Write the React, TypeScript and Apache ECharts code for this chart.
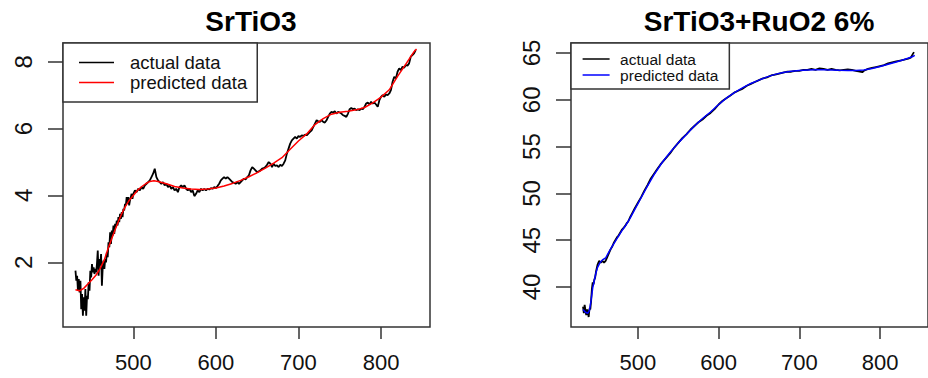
import React, { useEffect, useRef } from "react";
import * as echarts from "echarts";

const xTicks = [500, 600, 700, 800];
const leftYTicks = [2, 4, 6, 8];
const rightYTicks = [40, 45, 50, 55, 60, 65];
const leftTitle = "SrTiO3";
const rightTitle = "SrTiO3+RuO2 6%";
const actualName = "actual data";
const predictedName = "predicted data";

const leftActual: [number, number][] = [
  [430, 1.75], [431, 1.45], [432, 1.6], [433, 1.15], [434, 1.5], [435, 1.1], [436, 1.45], [437, 0.6],
  [438, 1.05], [439, 0.4], [440, 0.95], [441, 0.55], [442, 1.2], [443, 0.4], [444, 1.0], [445, 0.9],
  [446, 1.4], [447, 1.15], [448, 1.75], [449, 1.55], [450, 1.95], [451, 1.7], [452, 1.85], [453, 1.65],
  [454, 1.8], [455, 1.7], [456, 1.95], [457, 2.35], [458, 1.6], [459, 2.1], [460, 1.9], [461, 2.25],
  [462, 1.3], [463, 1.85], [464, 2.05], [465, 1.8], [466, 2.1], [467, 2.0], [468, 2.3], [469, 2.15],
  [470, 2.6], [471, 2.45], [472, 2.9], [473, 2.55], [474, 2.95], [475, 2.8], [476, 3.1], [477, 2.85],
  [478, 3.15], [479, 3.05], [480, 3.25], [481, 3.1], [482, 3.35], [483, 3.2], [484, 3.45], [485, 3.3],
  [486, 3.5], [487, 3.35], [488, 3.6], [489, 3.55], [490, 3.75], [491, 3.7], [492, 3.95], [493, 3.75],
  [494, 3.95], [495, 3.7], [496, 3.85], [497, 3.95], [498, 4.05], [499, 3.9], [500, 4.05], [502, 4.15],
  [504, 4.1], [506, 4.2], [508, 4.15], [510, 4.25], [512, 4.2], [514, 4.3], [516, 4.35], [518, 4.4],
  [520, 4.45], [522, 4.55], [524, 4.65], [526, 4.8], [528, 4.55], [530, 4.45], [532, 4.4], [534, 4.35],
  [536, 4.4], [538, 4.3], [540, 4.35], [542, 4.25], [544, 4.3], [546, 4.2], [548, 4.25], [550, 4.15],
  [552, 4.2], [554, 4.1], [556, 4.25], [558, 4.3], [560, 4.25], [562, 4.3], [564, 4.2], [566, 4.15],
  [568, 4.2], [570, 4.1], [572, 4.15], [574, 3.98], [576, 4.05], [578, 4.15], [580, 4.1], [582, 4.2],
  [584, 4.15], [586, 4.2], [588, 4.15], [590, 4.2], [592, 4.18], [594, 4.22], [596, 4.2], [598, 4.25],
  [600, 4.22], [602, 4.28], [604, 4.35], [606, 4.45], [608, 4.5], [610, 4.55], [612, 4.5], [614, 4.55],
  [616, 4.5], [618, 4.45], [620, 4.4], [622, 4.38], [624, 4.35], [626, 4.4], [628, 4.35], [630, 4.4],
  [632, 4.45], [634, 4.5], [636, 4.48], [638, 4.55], [640, 4.6], [642, 4.75], [644, 4.85], [646, 4.8],
  [648, 4.75], [650, 4.7], [652, 4.72], [654, 4.75], [656, 4.8], [658, 4.82], [660, 4.85], [662, 4.92],
  [664, 5.0], [666, 4.95], [668, 4.85], [670, 4.95], [672, 4.88], [674, 4.9], [676, 4.85], [678, 4.92],
  [680, 4.88], [682, 4.95], [684, 5.05], [686, 5.25], [688, 5.4], [690, 5.55], [692, 5.65], [694, 5.7],
  [696, 5.75], [698, 5.7], [700, 5.78], [702, 5.75], [704, 5.8], [706, 5.78], [708, 5.82], [710, 5.8],
  [712, 5.85], [714, 5.9], [716, 5.95], [718, 6.05], [720, 6.15], [722, 6.25], [724, 6.22], [726, 6.2],
  [728, 6.25], [730, 6.2], [732, 6.18], [734, 6.25], [736, 6.35], [738, 6.45], [740, 6.5], [742, 6.48],
  [744, 6.52], [746, 6.45], [748, 6.5], [750, 6.48], [752, 6.45], [754, 6.4], [756, 6.38], [758, 6.35],
  [760, 6.45], [762, 6.58], [764, 6.62], [766, 6.58], [768, 6.6], [770, 6.55], [772, 6.58], [774, 6.55],
  [776, 6.6], [778, 6.58], [780, 6.65], [782, 6.75], [784, 6.78], [786, 6.72], [788, 6.8], [790, 6.75],
  [792, 6.78], [794, 6.72], [796, 6.65], [798, 6.85], [800, 6.95], [802, 7.0], [804, 6.95], [806, 7.02],
  [808, 7.0], [810, 7.05], [812, 7.15], [814, 7.4], [816, 7.55], [818, 7.5], [820, 7.7], [822, 7.8],
  [824, 7.75], [826, 7.85], [828, 7.82], [830, 7.9], [832, 7.88], [834, 7.95], [836, 8.15], [838, 8.2],
  [840, 8.25], [842, 8.35],
];

const leftPredicted: [number, number][] = [
  [430, 1.18], [435, 1.15], [440, 1.22], [445, 1.35], [450, 1.48], [455, 1.62], [460, 1.82], [465, 2.08],
  [470, 2.45], [475, 2.78], [480, 3.1], [485, 3.4], [490, 3.65], [495, 3.85], [500, 4.0], [505, 4.15],
  [510, 4.26], [515, 4.35], [520, 4.42], [525, 4.44], [530, 4.42], [540, 4.35], [550, 4.27], [560, 4.22],
  [570, 4.19], [580, 4.18], [590, 4.19], [600, 4.22], [610, 4.28], [620, 4.36], [630, 4.45], [640, 4.56],
  [650, 4.68], [660, 4.82], [670, 4.97], [680, 5.13], [690, 5.38], [700, 5.63], [710, 5.84], [720, 6.12],
  [730, 6.3], [740, 6.43], [750, 6.49], [760, 6.52], [770, 6.56], [780, 6.63], [790, 6.77], [800, 6.94],
  [810, 7.16], [820, 7.56], [830, 7.93], [840, 8.3], [843, 8.38],
];

const rightActual: [number, number][] = [
  [432, 37.9], [433, 37.2], [434, 38.1], [435, 37.5], [436, 37.0], [437, 37.6], [438, 37.3], [439, 36.8],
  [440, 37.7], [441, 37.6], [442, 38.5], [443, 39.8], [444, 40.5], [445, 40.3], [446, 40.8], [447, 41.0],
  [448, 41.6], [449, 42.0], [450, 42.4], [452, 42.8], [454, 42.6], [456, 42.8], [458, 42.6], [460, 42.8],
  [462, 43.2], [464, 43.6], [466, 44.0], [468, 44.3], [470, 44.7], [472, 45.0], [474, 45.3], [476, 45.5],
  [478, 45.8], [480, 46.1], [482, 46.3], [484, 46.5], [486, 46.8], [488, 47.0], [490, 47.4], [493, 47.9],
  [496, 48.4], [500, 49.0], [504, 49.6], [508, 50.3], [512, 50.9], [516, 51.6], [520, 52.1], [524, 52.6],
  [528, 53.1], [532, 53.5], [536, 53.9], [540, 54.3], [545, 54.9], [550, 55.4], [555, 55.9], [560, 56.3],
  [565, 56.8], [570, 57.2], [575, 57.6], [580, 57.9], [585, 58.3], [590, 58.6], [595, 59.0], [600, 59.5],
  [605, 59.9], [610, 60.2], [615, 60.5], [620, 60.8], [625, 61.0], [630, 61.2], [635, 61.5], [640, 61.7],
  [645, 61.9], [650, 62.1], [655, 62.3], [660, 62.4], [665, 62.6], [670, 62.7], [675, 62.8], [680, 62.9],
  [685, 63.0], [690, 63.0], [695, 63.1], [700, 63.1], [705, 63.2], [710, 63.2], [715, 63.3], [720, 63.2],
  [725, 63.35], [730, 63.3], [735, 63.2], [740, 63.3], [745, 63.2], [750, 63.15], [755, 63.2], [760, 63.25],
  [765, 63.2], [770, 63.1], [775, 63.0], [778, 62.95], [780, 63.1], [785, 63.3], [790, 63.4], [795, 63.5],
  [800, 63.6], [805, 63.7], [810, 63.9], [815, 64.0], [820, 64.1], [825, 64.2], [830, 64.3], [835, 64.4],
  [838, 64.5], [840, 64.8], [842, 65.1],
];

const rightPredicted: [number, number][] = [
  [432, 37.6], [435, 37.3], [438, 37.2], [440, 37.5], [442, 38.6], [444, 39.9], [446, 40.7], [448, 41.5],
  [450, 42.1], [453, 42.6], [456, 42.9], [460, 43.1], [465, 43.9], [470, 44.6], [475, 45.3], [480, 46.0],
  [485, 46.6], [490, 47.3], [500, 48.9], [510, 50.5], [520, 52.0], [530, 53.3], [540, 54.4], [550, 55.4],
  [560, 56.3], [570, 57.2], [580, 58.0], [590, 58.7], [600, 59.5], [610, 60.2], [620, 60.8], [630, 61.3],
  [640, 61.75], [650, 62.1], [660, 62.45], [670, 62.72], [680, 62.92], [690, 63.05], [700, 63.13], [710, 63.18],
  [720, 63.2], [730, 63.2], [740, 63.18], [750, 63.15], [760, 63.13], [770, 63.12], [780, 63.18], [790, 63.35],
  [800, 63.55], [810, 63.8], [820, 64.05], [830, 64.3], [840, 64.6], [843, 64.75],
];

const FONT = "'Liberation Sans', Arial, sans-serif";
const BOX = "#333";

function xAxis(gridIndex: number, min: number, max: number) {
  return {
    type: "value",
    gridIndex,
    min,
    max,
    axisLine: { show: false },
    splitLine: { show: false },
    axisTick: { show: true, length: 12, lineStyle: { color: BOX, width: 1.5 }, customValues: xTicks },
    axisLabel: { customValues: xTicks, margin: 24, fontSize: 22, color: "#111", fontFamily: FONT },
  };
}

function yAxis(gridIndex: number, min: number, max: number, ticks: number[]) {
  return {
    type: "value",
    gridIndex,
    min,
    max,
    axisLine: { show: false },
    splitLine: { show: false },
    axisTick: { show: true, length: 15, lineStyle: { color: BOX, width: 1.5 }, customValues: ticks },
    axisLabel: { customValues: ticks, rotate: 90, margin: 28, fontSize: 24, color: "#111", fontFamily: FONT },
  };
}

function line(name: string, idx: number, data: [number, number][], color: string, z: number, width: number) {
  return {
    type: "line",
    name,
    xAxisIndex: idx,
    yAxisIndex: idx,
    data,
    symbol: "none",
    showSymbol: false,
    z,
    lineStyle: { color, width },
    itemStyle: { color },
  };
}

export default function App() {
  const ref = useRef<HTMLDivElement>(null);
  useEffect(() => {
    if (!ref.current) return;
    const chart = echarts.init(ref.current, null, { renderer: "svg" });
    chart.setOption({
      animation: false,
      backgroundColor: "#fff",
      textStyle: { fontFamily: FONT },
      title: [
        { text: leftTitle, left: 246, top: 2, textAlign: "center", textStyle: { fontSize: 28, fontWeight: "bold", color: "#000", fontFamily: FONT } },
        { text: rightTitle, left: 754, top: 2, textAlign: "center", textStyle: { fontSize: 28, fontWeight: "bold", color: "#000", fontFamily: FONT } },
      ],
      grid: [
        { left: 63, top: 43, width: 367, height: 284, show: true, borderColor: BOX, borderWidth: 1.5, backgroundColor: "transparent" },
        { left: 571, top: 43, width: 368, height: 284, show: true, borderColor: BOX, borderWidth: 1.5, backgroundColor: "transparent" },
      ],
      xAxis: [xAxis(0, 414.9, 859.3), xAxis(1, 417.1, 859.4)],
      yAxis: [yAxis(0, 0.065, 8.56, leftYTicks), yAxis(1, 35.73, 66.07, rightYTicks)],
      legend: [
        {
          left: 63, top: 43, orient: "vertical", selectedMode: false,
          backgroundColor: "#fff", borderColor: BOX, borderWidth: 1.5, borderRadius: 0,
          padding: [9.5, 10, 9.5, 16], itemGap: 0, itemWidth: 35, itemHeight: 1.5, icon: "rect",
          textStyle: { fontSize: 18.5, lineHeight: 20, color: "#111", padding: [0, 0, 0, 11], fontFamily: FONT },
          data: [
            { name: actualName, itemStyle: { color: "#000" } },
            { name: predictedName, itemStyle: { color: "#ff0000" } },
          ],
        },
        {
          left: 571, top: 43, orient: "vertical", selectedMode: false,
          backgroundColor: "#fff", borderColor: BOX, borderWidth: 1.5, borderRadius: 0,
          padding: [8, 11, 6, 11.6], itemGap: 0, itemWidth: 27, itemHeight: 1.5, icon: "rect",
          textStyle: { fontSize: 15.5, lineHeight: 14.5, color: "#111", padding: [0, 0, 0, 5.5], fontFamily: FONT },
          data: [
            { name: actualName, itemStyle: { color: "#000" } },
            { name: predictedName, itemStyle: { color: "#0000ff" } },
          ],
        },
      ],
      series: [
        line(actualName, 0, leftActual, "#000", 2, 1.8),
        line(predictedName, 0, leftPredicted, "#ff0000", 3, 1.5),
        line(actualName, 1, rightActual, "#000", 2, 1.8),
        line(predictedName, 1, rightPredicted, "#0000ff", 3, 1.5),
      ],
    });
    return () => chart.dispose();
  }, []);
  return (
    <div
      ref={ref}
      style={{ position: "fixed", left: 0, top: 0, width: 928, height: 378, background: "#fff" }}
    />
  );
}
